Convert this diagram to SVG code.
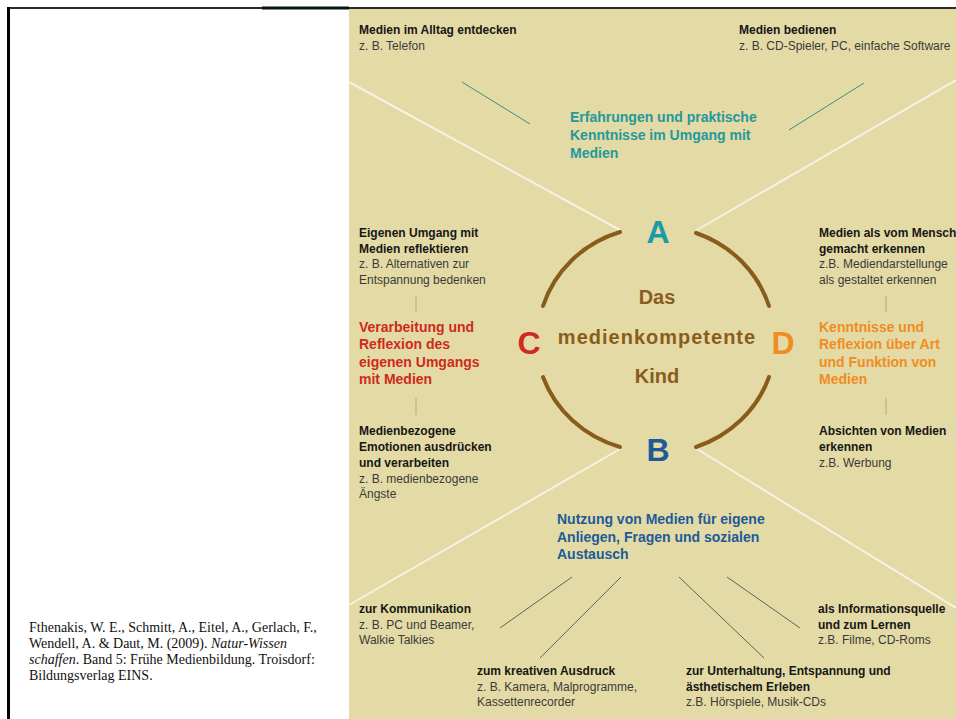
<svg xmlns="http://www.w3.org/2000/svg" width="956" height="719" viewBox="0 0 956 719">
<style>
  text { font-family: "Liberation Sans", Arial, sans-serif; }
  .b { font-weight: bold; font-size: 12px; fill: #161616; }
  .r { font-size: 12px; fill: #3a3a3a; }
  .h { font-weight: bold; font-size: 14px; }
  .teal { fill: #23999c; }
  .red { fill: #cf2a1b; }
  .orange { fill: #f08d22; }
  .blue { fill: #1e5a98; }
  .letter { font-weight: bold; font-size: 32px; text-anchor: middle; }
  .center { font-weight: bold; font-size: 20px; fill: #8a5c1e; text-anchor: middle; }
  .cite { font-family: "Liberation Serif", "Times New Roman", serif; font-size: 14px; fill: #111; }
  .white { stroke: #f6f2e4; stroke-width: 2; fill: none; }
  .thin { stroke: #4f6a60; stroke-width: 1; fill: none; }
  .tealline { stroke: #3e8f84; stroke-width: 1; fill: none; }
  .sep { stroke: #d4aa7c; stroke-width: 1.2; fill: none; }
  .arc { stroke: #8a5c1c; stroke-width: 4; fill: none; stroke-linecap: round; }
</style>

<!-- frame and panel -->
<rect x="0" y="0" width="956" height="719" fill="#ffffff"/>
<rect x="349" y="9" width="607" height="710" fill="#e3daa5"/>
<line x1="7" y1="8" x2="956" y2="8" stroke="#2a2a2a" stroke-width="2"/>
<line x1="262" y1="8" x2="349" y2="8" stroke="#061414" stroke-width="3"/>
<line x1="8.5" y1="7" x2="8.5" y2="719" stroke="#000" stroke-width="3"/>

<!-- connectors -->
<g id="connectors">
  <path class="white" d="M349,82 L620,230"/>
  <path class="white" d="M956,80 L697,230"/>
  <path class="white" d="M620,449 L349,605"/>
  <path class="white" d="M697,449 L956,608"/>
  <path class="tealline" d="M462,82 L530,124"/>
  <path class="tealline" d="M864,83 L789,130"/>
  <path class="thin" d="M572,577 L500,628"/>
  <path class="thin" d="M621,577 L540,658"/>
  <path class="thin" d="M679,577 L764,658"/>
  <path class="thin" d="M727,577 L800,628"/>
  <path class="sep" d="M416,296 L416,312"/>
  <path class="sep" d="M416,398 L416,415"/>
  <path class="sep" d="M886,296 L886,312"/>
  <path class="sep" d="M886,398 L886,415"/>
</g>

<!-- center -->
<g id="center">
  <path class="arc" d="M620,232 A118,113 0 0 0 543,306"/>
  <path class="arc" d="M696,233 A118,113 0 0 1 769,306"/>
  <path class="arc" d="M543,377 A118,113 0 0 0 620,447"/>
  <path class="arc" d="M769,377 A118,113 0 0 1 696,447"/>
  <text class="center" x="657" y="304">Das</text>
  <text class="center" x="657" y="344" letter-spacing="1">medienkompetente</text>
  <text class="center" x="657" y="383">Kind</text>
</g>

<g id="letterA"><text class="letter teal" x="658" y="243" style="fill:#1c9aa6">A</text></g>
<g id="letterB"><text class="letter blue" x="658" y="461">B</text></g>
<g id="letterC"><text class="letter red" x="529" y="354">C</text></g>
<g id="letterD"><text class="letter orange" x="783" y="354">D</text></g>

<!-- A branch -->
<g id="headingA">
  <text class="h teal" x="570" y="122">Erfahrungen und praktische</text>
  <text class="h teal" x="570" y="140">Kenntnisse im Umgang mit</text>
  <text class="h teal" x="570" y="158">Medien</text>
</g>
<g id="alltag">
  <text class="b" x="359" y="34">Medien im Alltag entdecken</text>
  <text class="r" x="359" y="50">z. B. Telefon</text>
</g>
<g id="bedienen">
  <text class="b" x="739" y="34">Medien bedienen</text>
  <text class="r" x="739" y="50">z. B. CD-Spieler, PC, einfache Software</text>
</g>

<!-- C branch -->
<g id="reflektieren">
  <text class="b" x="359" y="237">Eigenen Umgang mit</text>
  <text class="b" x="359" y="253">Medien reflektieren</text>
  <text class="r" x="359" y="268">z. B. Alternativen zur</text>
  <text class="r" x="359" y="284">Entspannung bedenken</text>
</g>
<g id="headingC">
  <text class="h red" x="359" y="332">Verarbeitung und</text>
  <text class="h red" x="359" y="349">Reflexion des</text>
  <text class="h red" x="359" y="367">eigenen Umgangs</text>
  <text class="h red" x="359" y="384">mit Medien</text>
</g>
<g id="emotionen">
  <text class="b" x="359" y="435">Medienbezogene</text>
  <text class="b" x="359" y="451">Emotionen ausdrücken</text>
  <text class="b" x="359" y="467">und verarbeiten</text>
  <text class="r" x="359" y="483">z. B. medienbezogene</text>
  <text class="r" x="359" y="498">Ängste</text>
</g>

<!-- D branch -->
<g id="gemacht">
  <text class="b" x="819" y="237">Medien als vom Mensch</text>
  <text class="b" x="819" y="253">gemacht erkennen</text>
  <text class="r" x="819" y="268">z.B. Mediendarstellunge</text>
  <text class="r" x="819" y="284">als gestaltet erkennen</text>
</g>
<g id="headingD">
  <text class="h orange" x="819" y="332">Kenntnisse und</text>
  <text class="h orange" x="819" y="349">Reflexion über Art</text>
  <text class="h orange" x="819" y="367">und Funktion von</text>
  <text class="h orange" x="819" y="384">Medien</text>
</g>
<g id="absichten">
  <text class="b" x="819" y="435">Absichten von Medien</text>
  <text class="b" x="819" y="451">erkennen</text>
  <text class="r" x="819" y="467">z.B. Werbung</text>
</g>

<!-- B branch -->
<g id="headingB">
  <text class="h blue" x="557" y="524">Nutzung von Medien für eigene</text>
  <text class="h blue" x="557" y="542">Anliegen, Fragen und sozialen</text>
  <text class="h blue" x="557" y="559">Austausch</text>
</g>
<g id="kommunikation">
  <text class="b" x="359" y="613">zur Kommunikation</text>
  <text class="r" x="359" y="629">z. B. PC und Beamer,</text>
  <text class="r" x="359" y="644">Walkie Talkies</text>
</g>
<g id="kreativ">
  <text class="b" x="477" y="675">zum kreativen Ausdruck</text>
  <text class="r" x="477" y="691">z. B. Kamera, Malprogramme,</text>
  <text class="r" x="477" y="706">Kassettenrecorder</text>
</g>
<g id="unterhaltung">
  <text class="b" x="686" y="675">zur Unterhaltung, Entspannung und</text>
  <text class="b" x="686" y="691">ästhetischem Erleben</text>
  <text class="r" x="686" y="706">z.B. Hörspiele, Musik-CDs</text>
</g>
<g id="information">
  <text class="b" x="818" y="613">als Informationsquelle</text>
  <text class="b" x="818" y="629">und zum Lernen</text>
  <text class="r" x="818" y="644">z.B. Filme, CD-Roms</text>
</g>

<!-- citation -->
<g id="citation">
  <text class="cite" x="29" y="632">Fthenakis, W. E., Schmitt, A., Eitel, A., Gerlach, F.,</text>
  <text class="cite" x="29" y="648">Wendell, A. &amp; Daut, M. (2009). <tspan font-style="italic">Natur-Wissen</tspan></text>
  <text class="cite" x="29" y="664"><tspan font-style="italic">schaffen</tspan>. Band 5: Frühe Medienbildung. Troisdorf:</text>
  <text class="cite" x="29" y="680">Bildungsverlag EINS.</text>
</g>
</svg>
